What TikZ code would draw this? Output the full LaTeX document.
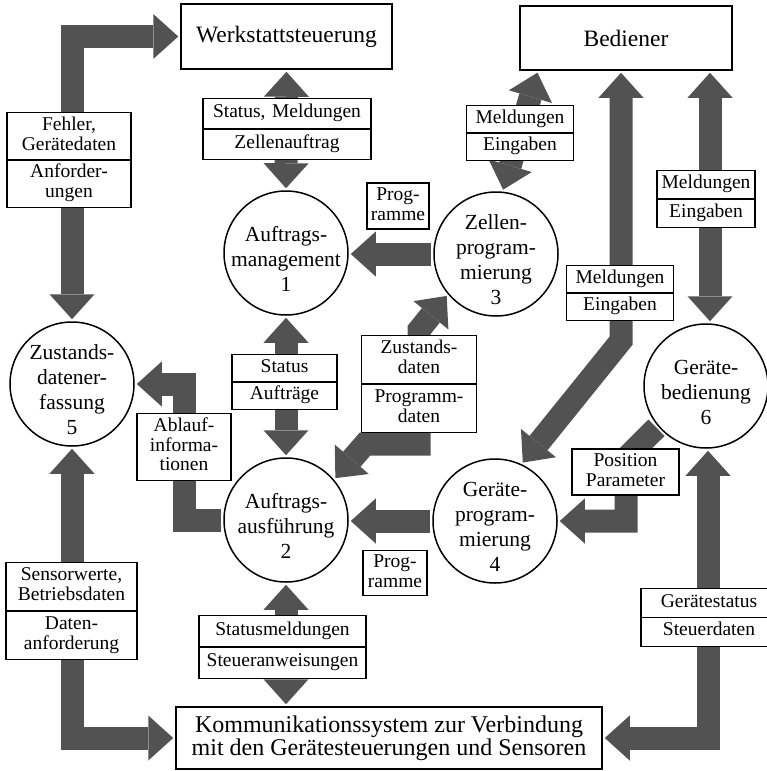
\documentclass[tikz,border=0pt]{standalone}
\usepackage{fontspec}
\setmainfont{Liberation Serif}
\usetikzlibrary{arrows.meta,shapes.multipart,backgrounds}
\definecolor{flowgray}{gray}{0.32}

\begin{document}
\begin{tikzpicture}[x=1pt,y=-1pt,
  box/.style={draw, line width=1.5pt, fill=white, inner sep=0pt, align=center,
    font=\fontsize{23.5}{23}\selectfont},
  proc/.style={circle, draw, line width=1.5pt, fill=white, minimum size=124pt,
    inner sep=0pt},
  ptext/.style={align=center, inner sep=0pt, yshift=-6pt,
    font=\fontsize{21.5}{25}\selectfont},
  tag/.style={draw, line width=1.1pt, fill=white, inner xsep=2pt, inner ysep=3pt,
    align=center, font=\fontsize{19.5}{20}\selectfont},
  tagtwo/.style={tag, rectangle split, rectangle split parts=2},
  bh/.tip={Triangle[length=25pt, width=45pt, line width=0pt]},
  flow/.style={line width=23pt, draw=flowgray, line join=miter,
    shorten >=2pt, shorten <=2pt},
  flowone/.style={flow, -bh},
  flowtwo/.style={flow, bh-bh}]

\useasboundingbox (0,0) rectangle (766,771);

% external partners
\node[box, minimum width=211pt, minimum height=65pt] (werk) at (286.5,36.5) {Werkstattsteuerung};
\node[box, minimum width=212pt, minimum height=64pt] (bed) at (626,38) {Bediener};
\node[box, minimum width=426pt, minimum height=62pt, font=\fontsize{24}{23}\selectfont]
  (kom) at (389,738) {Kommunikationssystem zur Verbindung\\mit den Gerätesteuerungen und Sensoren};

% processes
\node[proc, label={[ptext]center:Auftrags-\\management\\1}] (c1) at (286,253) {};
\node[proc, label={[ptext]center:Zellen-\\program-\\mierung\\3}] (c3) at (496,254) {};
\node[proc, label={[ptext]center:Zustands-\\datener-\\fassung\\5}] (c5) at (72,384) {};
\node[proc, label={[ptext]center:Auftrags-\\ausführung\\2}] (c2) at (286,520) {};
\node[proc, label={[ptext]center:Geräte-\\program-\\mierung\\4}] (c4) at (495,521) {};
\node[proc, label={[ptext]center:Geräte-\\bedienung\\6}] (c6) at (706,386) {};

% data flow labels
\node[tagtwo, text width=164pt, inner ysep=4.5pt] (l1) at (287,129)
  {\strut Status, Meldungen\nodepart{two}\strut Zellenauftrag};
\node[tagtwo, text width=120pt, inner ysep=3.25pt] (l2) at (69,160)
  {\strut Fehler,\\\strut Gerätedaten\nodepart{two}\strut Anforder-\\\strut ungen};
\node[tagtwo, text width=103pt] (l3) at (520,133)
  {\strut Meldungen\nodepart{two}\strut Eingaben};
\node[tagtwo, text width=103pt] (l4) at (620,293)
  {\strut Meldungen\nodepart{two}\strut Eingaben};
\node[tagtwo, text width=94pt, inner ysep=3.5pt] (l5) at (706,199)
  {\strut Meldungen\nodepart{two}\strut Eingaben};
\node[tag, text width=58pt] (l6) at (398,206) {\strut Prog-\\\strut ramme};
\node[tagtwo, text width=111pt, inner ysep=3.5pt] (l7) at (419,384)
  {\strut Zustands-\\\strut daten\nodepart{two}\strut Programm-\\\strut daten};
\node[tagtwo, text width=101pt] (l8) at (284.5,382)
  {\strut Status\nodepart{two}\strut Aufträge};
\node[tag, text width=90pt, inner ysep=4.25pt, font=\fontsize{19.5}{17.5}\selectfont] (l9) at (184,447)
  {\strut Ablauf-\\\strut informa-\\\strut tionen};
\node[tag, text width=60pt, inner ysep=2.5pt] (l10) at (395,573) {\strut Prog-\\\strut ramme};
\node[tag, text width=103pt] (l11) at (625.5,472) {\strut Position\\\strut Parameter};
\node[tagtwo, text width=132pt, inner ysep=3.75pt] (l12) at (709,617.5)
  {\strut Gerätestatus\nodepart{two}\strut Steuerdaten};
\node[tagtwo, text width=163pt, inner ysep=5pt] (l13) at (282.5,647)
  {\strut Statusmeldungen\nodepart{two}\strut Steueranweisungen};
\node[tagtwo, text width=127pt, inner ysep=3.5pt] (l14) at (71.5,611)
  {\strut Sensorwerte,\\\strut Betriebsdaten\nodepart{two}\strut Daten-\\\strut anforderung};

% data flows, drawn beneath the boxes and labels
\begin{pgfonlayer}{background}
  \draw[flowtwo] (werk.south) -- (c1.north);
  \draw[flowtwo] (c5.north) |- (werk.west);
  \draw[flowtwo] (c3.84) -- ([xshift=-88pt]bed.south);
  \draw[flowtwo] ([xshift=-5pt]bed.south) -- ++(0,270) -- (c4.65);
  \draw[flowtwo] ([xshift=4pt]c6.north) -- ([xshift=4pt]c6.north |- bed.south);
  \draw[flowone] (c3.west) -- (c3.west -| c1.east);
  \draw[flowtwo] (c2.40) -- (365,444) -- (419,444) -- (419,330) -- (c3.220);
  \draw[flowtwo] (c1.south) -- (c2.north);
  \draw[flowone] (c2.west) -| (l9.center) |- (c5.east);
  \draw[flowone] (c4.west) -- (c4.west -| c2.east);
  \draw[flowone] (c6.220) -- (626,458) |- (c4.east);
  \draw[flowtwo] ([xshift=2pt]c6.south) |- (kom.east);
  \draw[flowtwo] (c2.south) -- (c2.south |- kom.north);
  \draw[flowtwo] (c5.south) |- (kom.west);
\end{pgfonlayer}
\end{tikzpicture}
\end{document}
